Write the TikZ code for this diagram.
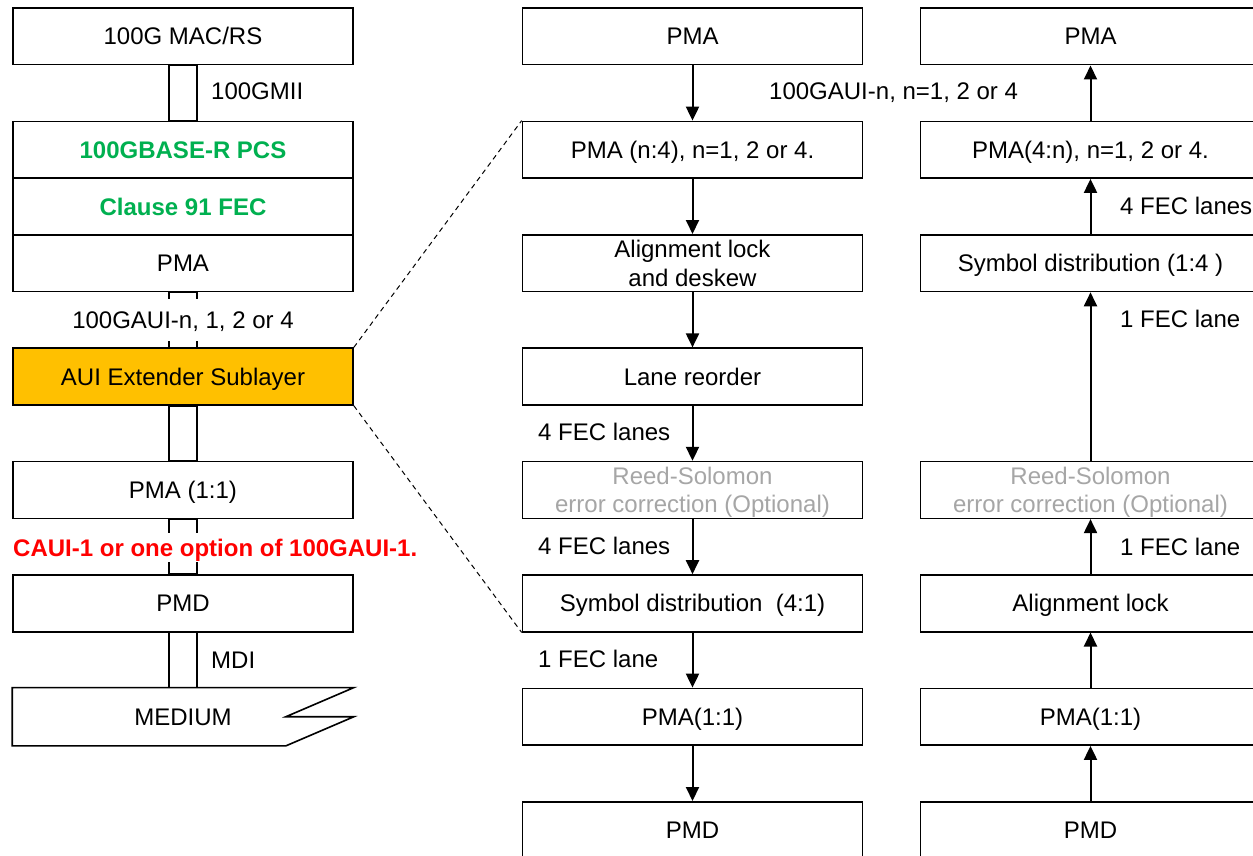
\documentclass[tikz,border=0pt]{standalone}
\usepackage{fontspec}
\setmainfont{Liberation Sans}
\usetikzlibrary{arrows.meta}
\definecolor{pcsgreen}{HTML}{00B050}
\definecolor{notered}{HTML}{FF0000}
\definecolor{optgray}{HTML}{A6A6A6}
\definecolor{auiorange}{HTML}{FFC000}
% two centred lines whose baseline is the first line
\newcommand\stackpair[2]{\vtop{\halign{\hfil##\hfil\cr#1\cr#2\cr}}}

\begin{document}
\begin{tikzpicture}[x=1pt,y=-1pt,
  every node/.style={font=\fontsize{24}{28.5}\selectfont, inner sep=0pt},
  boldtext/.style={font=\fontsize{24}{28.5}\selectfont\bfseries},
  layer/.style={draw, line width=1.6pt, minimum width=340pt, minimum height=56.7pt,
                text height=17.2pt, text depth=0pt, fill=white},
  twoline/.style={layer, text height=17.2pt, text depth=28.5pt},
  flow/.style={line width=2pt, -{Triangle[length=14pt,width=13pt]}},
  port/.style={line width=1.6pt},
  tag/.style={anchor=base west},
  zoomline/.style={dash pattern=on 5pt off 4pt, line width=1pt}
]
\useasboundingbox (0,0) rectangle (1253,856);
\clip (0,0) rectangle (1253,856);

% ---------- protocol stack ----------
\node[layer] (mac)    at (183,36.35)  {100G MAC/RS};
\node[layer, boldtext, text=pcsgreen] (pcs) at (183,149.75) {100GBASE-R PCS};
\node[layer, boldtext, text=pcsgreen] (fec) at (183,206.45) {Clause 91 FEC};
\node[layer] (lpma)   at (183,263.15) {PMA};
\node[layer, fill=auiorange] (aui) at (183,376.55) {AUI Extender Sublayer};
\node[layer] (lpma11) at (183,489.95) {PMA (1:1)};
\node[layer] (lpmd)   at (183,603.35) {PMD};
\node[layer, draw=none, fill=none] (med) at (183,716.75) {MEDIUM};
\draw[port] (med.north west) -- (med.north east) -- ([xshift=-68pt]med.east)
  -- (med.east) -- ([xshift=-68pt]med.south east) -- (med.south west) -- cycle;

% interfaces between the layers
\draw[port] ([xshift=-14pt]mac.south)    rectangle ([xshift=14pt]pcs.north);
\draw[port] ([xshift=-14pt]lpma.south)   rectangle ([xshift=14pt]aui.north);
\draw[port] ([xshift=-14pt]aui.south)    rectangle ([xshift=14pt]lpma11.north);
\draw[port] ([xshift=-14pt]lpma11.south) rectangle ([xshift=14pt]lpmd.north);
\draw[port] ([xshift=-14pt]lpmd.south)   rectangle ([xshift=14pt]med.north);

\node[tag] (gmii) at (211,100) {100GMII};
\node[tag] (mdi)  at (211,668.3) {MDI};
\node[fill=white, text height=17.2pt, text depth=0pt, inner xsep=3pt, inner ysep=12.5pt]
  (auin) at (183,320) {100GAUI-n, 1, 2 or 4};
\node[boldtext, text=notered, fill=white, anchor=west, text height=17.2pt, text depth=0pt,
  inner xsep=0pt, inner ysep=6pt] (caui) at (13,547.7) {CAUI-1 or one option of 100GAUI-1.};

% ---------- transmit direction ----------
\node[layer] (mpma)   at (692.5,36.35)  {PMA};
\node[layer] (mpman)  at (692.5,149.75) {PMA (n:4), n=1, 2 or 4.};
\node[twoline] (malign) at (692.5,263.15) {\stackpair{Alignment lock}{and deskew}};
\node[layer] (mlane)  at (692.5,376.55) {Lane reorder};
\node[twoline, text=optgray] (mrs) at (692.5,489.95)
  {\stackpair{Reed-Solomon}{error correction (Optional)}};
\node[layer] (msym)   at (692.5,603.35) {Symbol distribution \ (4:1)};
\node[layer] (mpma11) at (692.5,716.75) {PMA(1:1)};
\node[layer] (mpmd)   at (692.5,830.15) {PMD};

\draw[flow] (mpma)   -- (mpman);
\draw[flow] (mpman)  -- (malign);
\draw[flow] (malign) -- (mlane);
\draw[flow] (mlane)  -- (mrs);
\draw[flow] (mrs)    -- (msym);
\draw[flow] (msym)   -- (mpma11);
\draw[flow] (mpma11) -- (mpmd);

\node[tag] (gaui)  at (769,100)   {100GAUI-n, n=1, 2 or 4};
\node[tag] (mfec4a) at (538,440.6) {4 FEC lanes};
\node[tag] (mfec4b) at (538,554)   {4 FEC lanes};
\node[tag] (mfec1)  at (538,667.7) {1 FEC lane};

% ---------- receive direction ----------
\node[layer] (rpma)   at (1090.5,36.35)  {PMA};
\node[layer] (rpman)  at (1090.5,149.75) {PMA(4:n), n=1, 2 or 4.};
\node[layer] (rsym)   at (1090.5,263.15) {Symbol distribution (1:4 )};
\node[twoline, text=optgray] (rrs) at (1090.5,489.95)
  {\stackpair{Reed-Solomon}{error correction (Optional)}};
\node[layer] (ralign) at (1090.5,603.35) {Alignment lock};
\node[layer] (rpma11) at (1090.5,716.75) {PMA(1:1)};
\node[layer] (rpmd)   at (1090.5,830.15) {PMD};

\draw[flow] (rpmd)   -- (rpma11);
\draw[flow] (rpma11) -- (ralign);
\draw[flow] (ralign) -- (rrs);
\draw[flow] (rrs)    -- (rsym);
\draw[flow] (rsym)   -- (rpman);
\draw[flow] (rpman)  -- (rpma);

\node[tag] (rfec4)  at (1120,214)   {4 FEC lanes};
\node[tag] (rfec1a) at (1120,327.7) {1 FEC lane};
\node[tag] (rfec1b) at (1120,555)   {1 FEC lane};

% ---------- expansion of the AUI extender ----------
\draw[zoomline] (aui.north east) -- (mpman.north west);
\draw[zoomline] (aui.south east) -- (msym.south west);
\end{tikzpicture}
\end{document}
